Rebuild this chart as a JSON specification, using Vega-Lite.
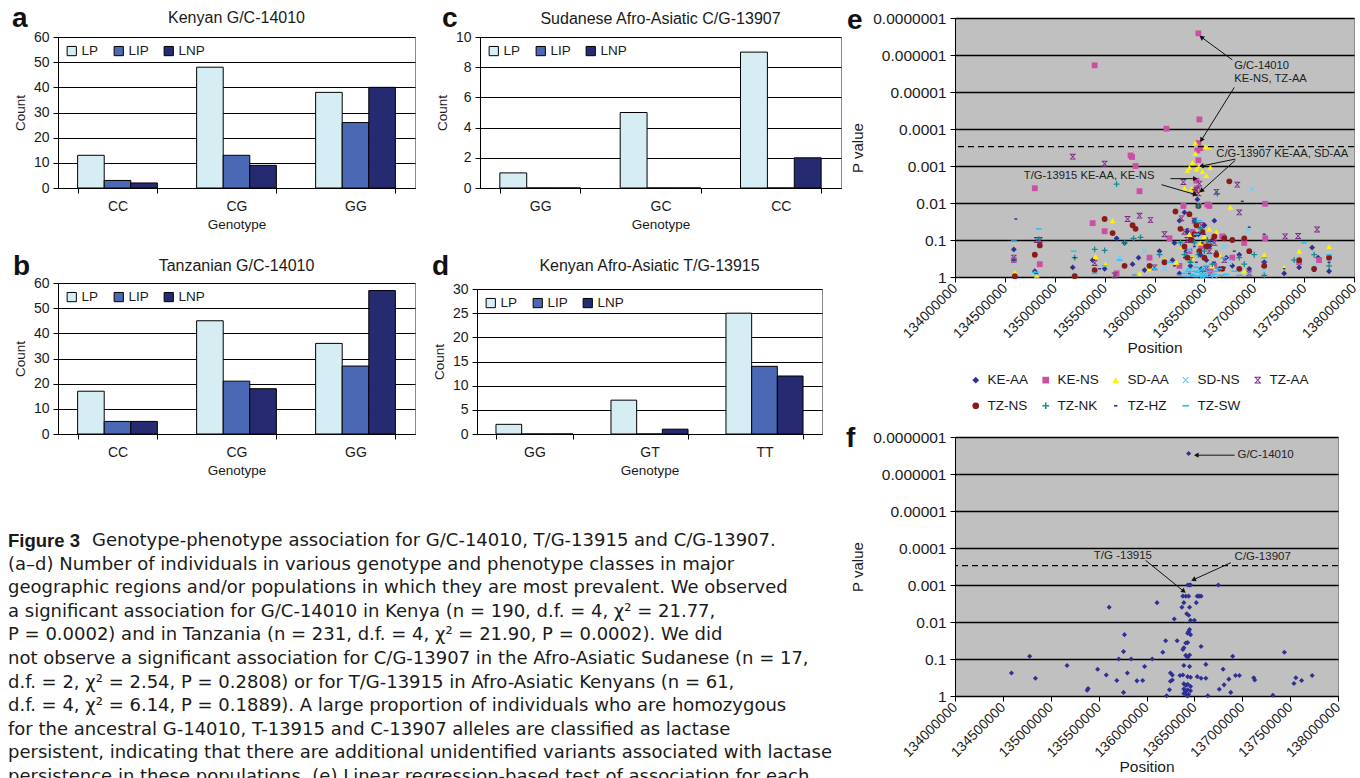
{
  "$schema": "https://vega.github.io/schema/vega-lite/v6.json",
  "background": "white",
  "padding": {"left": 8, "top": 4, "right": 0, "bottom": 0},
  "config": {
    "font": "Liberation Sans",
    "view": {"stroke": "#8a8a8a", "strokeWidth": 1},
    "axis": {"domainColor": "black", "tickColor": "black", "gridColor": "black", "labelColor": "#1a1a1a", "titleColor": "#1a1a1a", "titleFontWeight": "normal", "labelFont": "Liberation Sans", "titleFont": "Liberation Sans", "tickSize": 5, "labelFontSize": 14, "titleFontSize": 13.5},
    "title": {"fontWeight": "normal", "fontSize": 16, "color": "#1a1a1a", "baseline": "alphabetic", "font": "Liberation Sans"},
    "legend": {"labelFont": "Liberation Sans", "labelColor": "#1a1a1a"}
  },
  "datasets": {
    "bars": [
      {"panel": "a", "genotype": "CC", "phenotype": "LP", "count": 13},
      {"panel": "a", "genotype": "CC", "phenotype": "LIP", "count": 3},
      {"panel": "a", "genotype": "CC", "phenotype": "LNP", "count": 2},
      {"panel": "a", "genotype": "CG", "phenotype": "LP", "count": 48},
      {"panel": "a", "genotype": "CG", "phenotype": "LIP", "count": 13},
      {"panel": "a", "genotype": "CG", "phenotype": "LNP", "count": 9},
      {"panel": "a", "genotype": "GG", "phenotype": "LP", "count": 38},
      {"panel": "a", "genotype": "GG", "phenotype": "LIP", "count": 26},
      {"panel": "a", "genotype": "GG", "phenotype": "LNP", "count": 40},
      {"panel": "b", "genotype": "CC", "phenotype": "LP", "count": 17},
      {"panel": "b", "genotype": "CC", "phenotype": "LIP", "count": 5},
      {"panel": "b", "genotype": "CC", "phenotype": "LNP", "count": 5},
      {"panel": "b", "genotype": "CG", "phenotype": "LP", "count": 45},
      {"panel": "b", "genotype": "CG", "phenotype": "LIP", "count": 21},
      {"panel": "b", "genotype": "CG", "phenotype": "LNP", "count": 18},
      {"panel": "b", "genotype": "GG", "phenotype": "LP", "count": 36},
      {"panel": "b", "genotype": "GG", "phenotype": "LIP", "count": 27},
      {"panel": "b", "genotype": "GG", "phenotype": "LNP", "count": 57},
      {"panel": "c", "genotype": "GG", "phenotype": "LP", "count": 1},
      {"panel": "c", "genotype": "GG", "phenotype": "LIP", "count": 0},
      {"panel": "c", "genotype": "GG", "phenotype": "LNP", "count": 0},
      {"panel": "c", "genotype": "GC", "phenotype": "LP", "count": 5},
      {"panel": "c", "genotype": "GC", "phenotype": "LIP", "count": 0},
      {"panel": "c", "genotype": "GC", "phenotype": "LNP", "count": 0},
      {"panel": "c", "genotype": "CC", "phenotype": "LP", "count": 9},
      {"panel": "c", "genotype": "CC", "phenotype": "LIP", "count": 0},
      {"panel": "c", "genotype": "CC", "phenotype": "LNP", "count": 2},
      {"panel": "d", "genotype": "GG", "phenotype": "LP", "count": 2},
      {"panel": "d", "genotype": "GG", "phenotype": "LIP", "count": 0},
      {"panel": "d", "genotype": "GG", "phenotype": "LNP", "count": 0},
      {"panel": "d", "genotype": "GT", "phenotype": "LP", "count": 7},
      {"panel": "d", "genotype": "GT", "phenotype": "LIP", "count": 0},
      {"panel": "d", "genotype": "GT", "phenotype": "LNP", "count": 1},
      {"panel": "d", "genotype": "TT", "phenotype": "LP", "count": 25},
      {"panel": "d", "genotype": "TT", "phenotype": "LIP", "count": 14},
      {"panel": "d", "genotype": "TT", "phenotype": "LNP", "count": 12}
    ],
    "scatter": [
      {"pop": "KE-AA", "pos": 134590000, "p": 0.18}, {"pop": "KE-AA", "pos": 134800000, "p": 0.7}, {"pop": "KE-AA", "pos": 135180000, "p": 0.55}, {"pop": "KE-AA", "pos": 135380000, "p": 0.35}, {"pop": "KE-AA", "pos": 135500000, "p": 0.6}, {"pop": "KE-AA", "pos": 135620000, "p": 0.09}, {"pop": "KE-AA", "pos": 135700000, "p": 0.12}, {"pop": "KE-AA", "pos": 135780000, "p": 0.45}, {"pop": "KE-AA", "pos": 135840000, "p": 0.3}, {"pop": "KE-AA", "pos": 135900000, "p": 0.65}, {"pop": "KE-AA", "pos": 136050000, "p": 0.2}, {"pop": "KE-AA", "pos": 136180000, "p": 0.35}, {"pop": "KE-AA", "pos": 136250000, "p": 0.03}, {"pop": "KE-AA", "pos": 136300000, "p": 0.018}, {"pop": "KE-AA", "pos": 136330000, "p": 0.06}, {"pop": "KE-AA", "pos": 136380000, "p": 0.1}, {"pop": "KE-AA", "pos": 136410000, "p": 0.0045}, {"pop": "KE-AA", "pos": 136430000, "p": 0.008}, {"pop": "KE-AA", "pos": 136460000, "p": 0.25}, {"pop": "KE-AA", "pos": 136500000, "p": 0.04}, {"pop": "KE-AA", "pos": 136550000, "p": 0.15}, {"pop": "KE-AA", "pos": 136600000, "p": 0.03}, {"pop": "KE-AA", "pos": 136700000, "p": 0.08}, {"pop": "KE-AA", "pos": 136780000, "p": 0.5}, {"pop": "KE-AA", "pos": 136850000, "p": 0.25}, {"pop": "KE-AA", "pos": 136950000, "p": 0.6}, {"pop": "KE-AA", "pos": 137100000, "p": 0.4}, {"pop": "KE-AA", "pos": 137300000, "p": 0.8}, {"pop": "KE-AA", "pos": 137450000, "p": 0.55}, {"pop": "KE-AA", "pos": 137580000, "p": 0.16}, {"pop": "KE-AA", "pos": 137640000, "p": 0.3}, {"pop": "KE-AA", "pos": 137750000, "p": 0.7},
      {"pop": "KE-AA", "pos": 136320000, "p": 0.2}, {"pop": "KE-AA", "pos": 136360000, "p": 0.5}, {"pop": "KE-AA", "pos": 136400000, "p": 0.03}, {"pop": "KE-AA", "pos": 136440000, "p": 0.07}, {"pop": "KE-AA", "pos": 136470000, "p": 0.6}, {"pop": "KE-AA", "pos": 136520000, "p": 0.35}, {"pop": "KE-AA", "pos": 136580000, "p": 0.1}, {"pop": "KE-AA", "pos": 136650000, "p": 0.6}, {"pop": "KE-AA", "pos": 136720000, "p": 0.3}, {"pop": "KE-AA", "pos": 136250000, "p": 0.8}, {"pop": "KE-AA", "pos": 136200000, "p": 0.12},
      {"pop": "KE-NS", "pos": 136440000, "p": 2.6e-7}, {"pop": "KE-NS", "pos": 135400000, "p": 1.9e-6}, {"pop": "KE-NS", "pos": 136450000, "p": 5.5e-5}, {"pop": "KE-NS", "pos": 136120000, "p": 9.8e-5}, {"pop": "KE-NS", "pos": 135760000, "p": 0.00052}, {"pop": "KE-NS", "pos": 135775000, "p": 0.00057}, {"pop": "KE-NS", "pos": 135810000, "p": 0.001}, {"pop": "KE-NS", "pos": 134800000, "p": 0.004}, {"pop": "KE-NS", "pos": 135850000, "p": 0.0048}, {"pop": "KE-NS", "pos": 136440000, "p": 0.00024}, {"pop": "KE-NS", "pos": 136460000, "p": 0.00033}, {"pop": "KE-NS", "pos": 136430000, "p": 0.00038}, {"pop": "KE-NS", "pos": 136440000, "p": 0.0007}, {"pop": "KE-NS", "pos": 136420000, "p": 0.0025}, {"pop": "KE-NS", "pos": 136430000, "p": 0.004}, {"pop": "KE-NS", "pos": 137110000, "p": 0.0105}, {"pop": "KE-NS", "pos": 136550000, "p": 0.012}, {"pop": "KE-NS", "pos": 136530000, "p": 0.011}, {"pop": "KE-NS", "pos": 136290000, "p": 0.012}, {"pop": "KE-NS", "pos": 135380000, "p": 0.035}, {"pop": "KE-NS", "pos": 135500000, "p": 0.058}, {"pop": "KE-NS", "pos": 137110000, "p": 0.09}, {"pop": "KE-NS", "pos": 134590000, "p": 0.35}, {"pop": "KE-NS", "pos": 134850000, "p": 0.45}, {"pop": "KE-NS", "pos": 135620000, "p": 0.8}, {"pop": "KE-NS", "pos": 135950000, "p": 0.3}, {"pop": "KE-NS", "pos": 136150000, "p": 0.09}, {"pop": "KE-NS", "pos": 136350000, "p": 0.2}, {"pop": "KE-NS", "pos": 136600000, "p": 0.5}, {"pop": "KE-NS", "pos": 136780000, "p": 0.3}, {"pop": "KE-NS", "pos": 136900000, "p": 0.12}, {"pop": "KE-NS", "pos": 137450000, "p": 0.4}, {"pop": "KE-NS", "pos": 137650000, "p": 0.35},
      {"pop": "KE-NS", "pos": 136380000, "p": 0.06}, {"pop": "KE-NS", "pos": 136470000, "p": 0.15}, {"pop": "KE-NS", "pos": 136560000, "p": 0.7}, {"pop": "KE-NS", "pos": 136250000, "p": 0.5}, {"pop": "KE-NS", "pos": 136680000, "p": 0.08},
      {"pop": "SD-AA", "pos": 136410000, "p": 0.00024}, {"pop": "SD-AA", "pos": 136510000, "p": 0.0003}, {"pop": "SD-AA", "pos": 136540000, "p": 0.0003}, {"pop": "SD-AA", "pos": 136410000, "p": 0.00045}, {"pop": "SD-AA", "pos": 136380000, "p": 0.0008}, {"pop": "SD-AA", "pos": 136350000, "p": 0.0011}, {"pop": "SD-AA", "pos": 136420000, "p": 0.0012}, {"pop": "SD-AA", "pos": 136450000, "p": 0.001}, {"pop": "SD-AA", "pos": 136480000, "p": 0.0014}, {"pop": "SD-AA", "pos": 136520000, "p": 0.0018}, {"pop": "SD-AA", "pos": 136560000, "p": 0.0011}, {"pop": "SD-AA", "pos": 136330000, "p": 0.0013}, {"pop": "SD-AA", "pos": 136300000, "p": 0.004}, {"pop": "SD-AA", "pos": 136370000, "p": 0.0042}, {"pop": "SD-AA", "pos": 136410000, "p": 0.005}, {"pop": "SD-AA", "pos": 136440000, "p": 0.0048}, {"pop": "SD-AA", "pos": 136760000, "p": 0.013}, {"pop": "SD-AA", "pos": 135580000, "p": 0.03}, {"pop": "SD-AA", "pos": 136550000, "p": 0.05}, {"pop": "SD-AA", "pos": 135410000, "p": 0.28}, {"pop": "SD-AA", "pos": 135510000, "p": 0.45}, {"pop": "SD-AA", "pos": 137750000, "p": 0.15}, {"pop": "SD-AA", "pos": 135950000, "p": 0.6}, {"pop": "SD-AA", "pos": 136100000, "p": 0.35}, {"pop": "SD-AA", "pos": 136220000, "p": 0.4}, {"pop": "SD-AA", "pos": 136350000, "p": 0.07}, {"pop": "SD-AA", "pos": 136500000, "p": 0.08}, {"pop": "SD-AA", "pos": 136650000, "p": 0.25}, {"pop": "SD-AA", "pos": 136900000, "p": 0.7}, {"pop": "SD-AA", "pos": 137100000, "p": 0.25}, {"pop": "SD-AA", "pos": 137300000, "p": 0.55}, {"pop": "SD-AA", "pos": 137450000, "p": 0.2}, {"pop": "SD-AA", "pos": 134600000, "p": 0.75}, {"pop": "SD-AA", "pos": 134820000, "p": 0.9}, {"pop": "SD-AA", "pos": 135850000, "p": 0.8},
      {"pop": "SD-AA", "pos": 136380000, "p": 0.3}, {"pop": "SD-AA", "pos": 136460000, "p": 0.12}, {"pop": "SD-AA", "pos": 136580000, "p": 0.5}, {"pop": "SD-AA", "pos": 136280000, "p": 0.15}, {"pop": "SD-AA", "pos": 136620000, "p": 0.06},
      {"pop": "SD-NS", "pos": 136980000, "p": 0.0042}, {"pop": "SD-NS", "pos": 136940000, "p": 0.055}, {"pop": "SD-NS", "pos": 136450000, "p": 0.011}, {"pop": "SD-NS", "pos": 136350000, "p": 0.18}, {"pop": "SD-NS", "pos": 136500000, "p": 0.5}, {"pop": "SD-NS", "pos": 135650000, "p": 0.3}, {"pop": "SD-NS", "pos": 135900000, "p": 0.2}, {"pop": "SD-NS", "pos": 136100000, "p": 0.6}, {"pop": "SD-NS", "pos": 136750000, "p": 0.4}, {"pop": "SD-NS", "pos": 134820000, "p": 0.8}, {"pop": "SD-NS", "pos": 135200000, "p": 0.9}, {"pop": "SD-NS", "pos": 137100000, "p": 0.7}, {"pop": "SD-NS", "pos": 137600000, "p": 0.5}, {"pop": "SD-NS", "pos": 136400000, "p": 0.08}, {"pop": "SD-NS", "pos": 136600000, "p": 0.9},
      {"pop": "SD-NS", "pos": 136420000, "p": 0.5}, {"pop": "SD-NS", "pos": 136550000, "p": 0.25}, {"pop": "SD-NS", "pos": 136300000, "p": 0.7}, {"pop": "SD-NS", "pos": 136700000, "p": 0.15}, {"pop": "SD-NS", "pos": 136480000, "p": 0.95},
      {"pop": "TZ-AA", "pos": 135180000, "p": 0.00056}, {"pop": "TZ-AA", "pos": 135500000, "p": 0.00087}, {"pop": "TZ-AA", "pos": 136290000, "p": 0.0027}, {"pop": "TZ-AA", "pos": 136830000, "p": 0.0032}, {"pop": "TZ-AA", "pos": 136620000, "p": 0.005}, {"pop": "TZ-AA", "pos": 136850000, "p": 0.018}, {"pop": "TZ-AA", "pos": 135730000, "p": 0.027}, {"pop": "TZ-AA", "pos": 135850000, "p": 0.022}, {"pop": "TZ-AA", "pos": 135960000, "p": 0.029}, {"pop": "TZ-AA", "pos": 137310000, "p": 0.08}, {"pop": "TZ-AA", "pos": 137440000, "p": 0.078}, {"pop": "TZ-AA", "pos": 137630000, "p": 0.052}, {"pop": "TZ-AA", "pos": 134590000, "p": 0.3}, {"pop": "TZ-AA", "pos": 134850000, "p": 0.1}, {"pop": "TZ-AA", "pos": 134820000, "p": 0.1}, {"pop": "TZ-AA", "pos": 136270000, "p": 0.026}, {"pop": "TZ-AA", "pos": 136400000, "p": 0.005}, {"pop": "TZ-AA", "pos": 136420000, "p": 0.0045}, {"pop": "TZ-AA", "pos": 136440000, "p": 0.0055}, {"pop": "TZ-AA", "pos": 136450000, "p": 0.003}, {"pop": "TZ-AA", "pos": 136300000, "p": 0.06}, {"pop": "TZ-AA", "pos": 136400000, "p": 0.03}, {"pop": "TZ-AA", "pos": 136100000, "p": 0.07}, {"pop": "TZ-AA", "pos": 135400000, "p": 0.42}, {"pop": "TZ-AA", "pos": 135600000, "p": 0.9}, {"pop": "TZ-AA", "pos": 136000000, "p": 0.55}, {"pop": "TZ-AA", "pos": 136550000, "p": 0.2}, {"pop": "TZ-AA", "pos": 136700000, "p": 0.35}, {"pop": "TZ-AA", "pos": 136950000, "p": 0.8}, {"pop": "TZ-AA", "pos": 137100000, "p": 0.45},
      {"pop": "TZ-AA", "pos": 136330000, "p": 0.1}, {"pop": "TZ-AA", "pos": 136470000, "p": 0.04}, {"pop": "TZ-AA", "pos": 136520000, "p": 0.6}, {"pop": "TZ-AA", "pos": 136360000, "p": 0.35}, {"pop": "TZ-AA", "pos": 136600000, "p": 0.12},
      {"pop": "TZ-NS", "pos": 136750000, "p": 0.0026}, {"pop": "TZ-NS", "pos": 135500000, "p": 0.027}, {"pop": "TZ-NS", "pos": 135780000, "p": 0.04}, {"pop": "TZ-NS", "pos": 135810000, "p": 0.05}, {"pop": "TZ-NS", "pos": 135580000, "p": 0.065}, {"pop": "TZ-NS", "pos": 136210000, "p": 0.017}, {"pop": "TZ-NS", "pos": 136440000, "p": 0.012}, {"pop": "TZ-NS", "pos": 134850000, "p": 0.14}, {"pop": "TZ-NS", "pos": 134800000, "p": 0.25}, {"pop": "TZ-NS", "pos": 134600000, "p": 0.95}, {"pop": "TZ-NS", "pos": 136900000, "p": 0.09}, {"pop": "TZ-NS", "pos": 136950000, "p": 0.2}, {"pop": "TZ-NS", "pos": 136600000, "p": 0.08}, {"pop": "TZ-NS", "pos": 136550000, "p": 0.12}, {"pop": "TZ-NS", "pos": 136500000, "p": 0.3}, {"pop": "TZ-NS", "pos": 136350000, "p": 0.02}, {"pop": "TZ-NS", "pos": 136300000, "p": 0.15}, {"pop": "TZ-NS", "pos": 136100000, "p": 0.4}, {"pop": "TZ-NS", "pos": 135950000, "p": 0.5}, {"pop": "TZ-NS", "pos": 135400000, "p": 0.65}, {"pop": "TZ-NS", "pos": 137100000, "p": 0.5}, {"pop": "TZ-NS", "pos": 137450000, "p": 0.35}, {"pop": "TZ-NS", "pos": 137600000, "p": 0.6}, {"pop": "TZ-NS", "pos": 137750000, "p": 0.3}, {"pop": "TZ-NS", "pos": 136700000, "p": 0.09}, {"pop": "TZ-NS", "pos": 136420000, "p": 0.04}, {"pop": "TZ-NS", "pos": 136400000, "p": 0.07}, {"pop": "TZ-NS", "pos": 135700000, "p": 0.5}, {"pop": "TZ-NS", "pos": 135200000, "p": 0.95},
      {"pop": "TZ-NS", "pos": 136260000, "p": 0.05}, {"pop": "TZ-NS", "pos": 136330000, "p": 0.3}, {"pop": "TZ-NS", "pos": 136370000, "p": 0.1}, {"pop": "TZ-NS", "pos": 136450000, "p": 0.2}, {"pop": "TZ-NS", "pos": 136480000, "p": 0.06}, {"pop": "TZ-NS", "pos": 136520000, "p": 0.15}, {"pop": "TZ-NS", "pos": 136620000, "p": 0.25}, {"pop": "TZ-NS", "pos": 136680000, "p": 0.6}, {"pop": "TZ-NS", "pos": 136780000, "p": 0.1}, {"pop": "TZ-NS", "pos": 136850000, "p": 0.6},
      {"pop": "TZ-NK", "pos": 135620000, "p": 0.0031}, {"pop": "TZ-NK", "pos": 136630000, "p": 0.0056}, {"pop": "TZ-NK", "pos": 136440000, "p": 0.012}, {"pop": "TZ-NK", "pos": 134840000, "p": 0.095}, {"pop": "TZ-NK", "pos": 135790000, "p": 0.09}, {"pop": "TZ-NK", "pos": 135860000, "p": 0.085}, {"pop": "TZ-NK", "pos": 135500000, "p": 0.19}, {"pop": "TZ-NK", "pos": 136260000, "p": 0.12}, {"pop": "TZ-NK", "pos": 134590000, "p": 0.35}, {"pop": "TZ-NK", "pos": 136420000, "p": 0.03}, {"pop": "TZ-NK", "pos": 136460000, "p": 0.05}, {"pop": "TZ-NK", "pos": 136500000, "p": 0.2}, {"pop": "TZ-NK", "pos": 136850000, "p": 0.3}, {"pop": "TZ-NK", "pos": 137000000, "p": 0.25}, {"pop": "TZ-NK", "pos": 137600000, "p": 0.25}, {"pop": "TZ-NK", "pos": 137750000, "p": 0.5}, {"pop": "TZ-NK", "pos": 135200000, "p": 0.3}, {"pop": "TZ-NK", "pos": 135700000, "p": 0.12}, {"pop": "TZ-NK", "pos": 136050000, "p": 0.25}, {"pop": "TZ-NK", "pos": 136900000, "p": 0.45}, {"pop": "TZ-NK", "pos": 137100000, "p": 0.9}, {"pop": "TZ-NK", "pos": 137400000, "p": 0.35}, {"pop": "TZ-NK", "pos": 135400000, "p": 0.18},
      {"pop": "TZ-NK", "pos": 136360000, "p": 0.4}, {"pop": "TZ-NK", "pos": 136400000, "p": 0.12}, {"pop": "TZ-NK", "pos": 136440000, "p": 0.25}, {"pop": "TZ-NK", "pos": 136480000, "p": 0.7}, {"pop": "TZ-NK", "pos": 136530000, "p": 0.1}, {"pop": "TZ-NK", "pos": 136580000, "p": 0.45}, {"pop": "TZ-NK", "pos": 136300000, "p": 0.25},
      {"pop": "TZ-HZ", "pos": 134610000, "p": 0.027}, {"pop": "TZ-HZ", "pos": 136880000, "p": 0.009}, {"pop": "TZ-HZ", "pos": 136950000, "p": 0.045}, {"pop": "TZ-HZ", "pos": 134590000, "p": 0.35}, {"pop": "TZ-HZ", "pos": 134820000, "p": 0.8}, {"pop": "TZ-HZ", "pos": 135200000, "p": 0.3}, {"pop": "TZ-HZ", "pos": 135450000, "p": 0.6}, {"pop": "TZ-HZ", "pos": 135800000, "p": 0.9}, {"pop": "TZ-HZ", "pos": 136200000, "p": 0.5}, {"pop": "TZ-HZ", "pos": 136400000, "p": 0.15}, {"pop": "TZ-HZ", "pos": 136450000, "p": 0.25}, {"pop": "TZ-HZ", "pos": 136500000, "p": 0.07}, {"pop": "TZ-HZ", "pos": 136600000, "p": 0.4}, {"pop": "TZ-HZ", "pos": 136700000, "p": 0.55}, {"pop": "TZ-HZ", "pos": 136800000, "p": 0.2}, {"pop": "TZ-HZ", "pos": 137100000, "p": 0.07}, {"pop": "TZ-HZ", "pos": 137300000, "p": 0.6}, {"pop": "TZ-HZ", "pos": 137600000, "p": 0.7}, {"pop": "TZ-HZ", "pos": 137750000, "p": 0.4}, {"pop": "TZ-HZ", "pos": 136330000, "p": 0.05},
      {"pop": "TZ-HZ", "pos": 136350000, "p": 0.8}, {"pop": "TZ-HZ", "pos": 136420000, "p": 0.4}, {"pop": "TZ-HZ", "pos": 136480000, "p": 0.12}, {"pop": "TZ-HZ", "pos": 136550000, "p": 0.9}, {"pop": "TZ-HZ", "pos": 136620000, "p": 0.2}, {"pop": "TZ-HZ", "pos": 136300000, "p": 0.3},
      {"pop": "TZ-SW", "pos": 134590000, "p": 0.1}, {"pop": "TZ-SW", "pos": 134840000, "p": 0.05}, {"pop": "TZ-SW", "pos": 135190000, "p": 0.2}, {"pop": "TZ-SW", "pos": 135400000, "p": 0.8}, {"pop": "TZ-SW", "pos": 134800000, "p": 0.75}, {"pop": "TZ-SW", "pos": 135500000, "p": 0.5}, {"pop": "TZ-SW", "pos": 135650000, "p": 0.35}, {"pop": "TZ-SW", "pos": 135800000, "p": 0.9}, {"pop": "TZ-SW", "pos": 136000000, "p": 0.6}, {"pop": "TZ-SW", "pos": 136150000, "p": 0.4}, {"pop": "TZ-SW", "pos": 136300000, "p": 0.8}, {"pop": "TZ-SW", "pos": 136350000, "p": 0.6}, {"pop": "TZ-SW", "pos": 136380000, "p": 0.9}, {"pop": "TZ-SW", "pos": 136400000, "p": 0.7}, {"pop": "TZ-SW", "pos": 136420000, "p": 0.55}, {"pop": "TZ-SW", "pos": 136440000, "p": 0.95}, {"pop": "TZ-SW", "pos": 136460000, "p": 0.65}, {"pop": "TZ-SW", "pos": 136480000, "p": 0.8}, {"pop": "TZ-SW", "pos": 136500000, "p": 0.9}, {"pop": "TZ-SW", "pos": 136520000, "p": 0.5}, {"pop": "TZ-SW", "pos": 136550000, "p": 0.7}, {"pop": "TZ-SW", "pos": 136600000, "p": 0.85}, {"pop": "TZ-SW", "pos": 136650000, "p": 0.6}, {"pop": "TZ-SW", "pos": 136700000, "p": 0.3}, {"pop": "TZ-SW", "pos": 136800000, "p": 0.7}, {"pop": "TZ-SW", "pos": 136950000, "p": 0.8}, {"pop": "TZ-SW", "pos": 137100000, "p": 0.3}, {"pop": "TZ-SW", "pos": 137500000, "p": 0.12}, {"pop": "TZ-SW", "pos": 137750000, "p": 0.25}, {"pop": "TZ-SW", "pos": 136450000, "p": 0.03}, {"pop": "TZ-SW", "pos": 136420000, "p": 0.07}, {"pop": "TZ-SW", "pos": 136560000, "p": 0.12},
      {"pop": "TZ-SW", "pos": 136320000, "p": 0.95}, {"pop": "TZ-SW", "pos": 136340000, "p": 0.7}, {"pop": "TZ-SW", "pos": 136370000, "p": 0.85}, {"pop": "TZ-SW", "pos": 136410000, "p": 0.98}, {"pop": "TZ-SW", "pos": 136430000, "p": 0.75}, {"pop": "TZ-SW", "pos": 136470000, "p": 0.9}, {"pop": "TZ-SW", "pos": 136490000, "p": 0.6}, {"pop": "TZ-SW", "pos": 136510000, "p": 0.98}, {"pop": "TZ-SW", "pos": 136530000, "p": 0.8}, {"pop": "TZ-SW", "pos": 136570000, "p": 0.95}, {"pop": "TZ-SW", "pos": 136620000, "p": 0.7}, {"pop": "TZ-SW", "pos": 136670000, "p": 0.9}, {"pop": "TZ-SW", "pos": 136720000, "p": 0.85}, {"pop": "TZ-SW", "pos": 136250000, "p": 0.9}, {"pop": "TZ-SW", "pos": 136850000, "p": 0.9}
    ],
    "fpts": [
      {"pos": 136440000, "p": 2.8e-7}, {"pos": 136750000, "p": 0.001}, {"pos": 136430000, "p": 0.001}, {"pos": 136450000, "p": 0.001}, {"pos": 136460000, "p": 0.001},
      {"pos": 136380000, "p": 0.002}, {"pos": 136410000, "p": 0.002}, {"pos": 136440000, "p": 0.002}, {"pos": 136530000, "p": 0.002}, {"pos": 136550000, "p": 0.002}, {"pos": 136570000, "p": 0.002},
      {"pos": 136110000, "p": 0.003}, {"pos": 136390000, "p": 0.003}, {"pos": 136520000, "p": 0.003}, {"pos": 135610000, "p": 0.004}, {"pos": 136370000, "p": 0.004}, {"pos": 136450000, "p": 0.004},
      {"pos": 136420000, "p": 0.006}, {"pos": 136440000, "p": 0.0066}, {"pos": 136460000, "p": 0.009}, {"pos": 136500000, "p": 0.009}, {"pos": 136290000, "p": 0.0083},
      {"pos": 136450000, "p": 0.016}, {"pos": 136440000, "p": 0.018}, {"pos": 136430000, "p": 0.02}, {"pos": 136460000, "p": 0.022}, {"pos": 135770000, "p": 0.022},
      {"pos": 136200000, "p": 0.032}, {"pos": 136320000, "p": 0.032}, {"pos": 136410000, "p": 0.037}, {"pos": 136430000, "p": 0.036}, {"pos": 136390000, "p": 0.05}, {"pos": 136380000, "p": 0.055},
      {"pos": 136570000, "p": 0.046}, {"pos": 135760000, "p": 0.063}, {"pos": 136170000, "p": 0.066}, {"pos": 136410000, "p": 0.08}, {"pos": 136430000, "p": 0.09}, {"pos": 136450000, "p": 0.078},
      {"pos": 134780000, "p": 0.084}, {"pos": 136900000, "p": 0.084}, {"pos": 137440000, "p": 0.066}, {"pos": 135710000, "p": 0.1}, {"pos": 135840000, "p": 0.1}, {"pos": 136060000, "p": 0.1},
      {"pos": 136390000, "p": 0.15}, {"pos": 136450000, "p": 0.16}, {"pos": 135980000, "p": 0.16}, {"pos": 135170000, "p": 0.15}, {"pos": 136620000, "p": 0.14}, {"pos": 135490000, "p": 0.19}, {"pos": 136800000, "p": 0.19},
      {"pos": 134590000, "p": 0.24}, {"pos": 135800000, "p": 0.24}, {"pos": 135580000, "p": 0.27}, {"pos": 136250000, "p": 0.24}, {"pos": 136270000, "p": 0.27},
      {"pos": 136380000, "p": 0.27}, {"pos": 136430000, "p": 0.3}, {"pos": 136460000, "p": 0.31}, {"pos": 136530000, "p": 0.3}, {"pos": 136570000, "p": 0.33}, {"pos": 136620000, "p": 0.33},
      {"pos": 137730000, "p": 0.28}, {"pos": 137560000, "p": 0.32}, {"pos": 134840000, "p": 0.33}, {"pos": 136350000, "p": 0.28}, {"pos": 136930000, "p": 0.28}, {"pos": 136970000, "p": 0.28},
      {"pos": 137120000, "p": 0.32}, {"pos": 137130000, "p": 0.37}, {"pos": 135690000, "p": 0.38}, {"pos": 135900000, "p": 0.39}, {"pos": 135960000, "p": 0.38}, {"pos": 136250000, "p": 0.4}, {"pos": 136270000, "p": 0.37},
      {"pos": 136860000, "p": 0.35}, {"pos": 137620000, "p": 0.38}, {"pos": 137540000, "p": 0.46},
      {"pos": 136390000, "p": 0.47}, {"pos": 136410000, "p": 0.52}, {"pos": 136430000, "p": 0.48}, {"pos": 136460000, "p": 0.55}, {"pos": 136810000, "p": 0.5},
      {"pos": 135380000, "p": 0.7}, {"pos": 135390000, "p": 0.63}, {"pos": 136240000, "p": 0.68}, {"pos": 136760000, "p": 0.66},
      {"pos": 136390000, "p": 0.65}, {"pos": 136410000, "p": 0.75}, {"pos": 136430000, "p": 0.68}, {"pos": 136460000, "p": 0.72},
      {"pos": 135760000, "p": 0.8}, {"pos": 136880000, "p": 0.8}, {"pos": 136210000, "p": 0.98},
      {"pos": 136390000, "p": 0.85}, {"pos": 136420000, "p": 0.95}, {"pos": 136440000, "p": 0.9}, {"pos": 136430000, "p": 1.0}, {"pos": 136640000, "p": 0.98}, {"pos": 137320000, "p": 0.95}
    ],
    "arrowsE": [
      {"x1": 136780000, "y1": 1.35e-6, "x2": 136470000, "y2": 3.3e-7},
      {"x1": 136800000, "y1": 7.5e-6, "x2": 136470000, "y2": 0.0002},
      {"x1": 136810000, "y1": 0.00065, "x2": 136470000, "y2": 0.001},
      {"x1": 136810000, "y1": 0.0007, "x2": 136470000, "y2": 0.0047},
      {"x1": 136160000, "y1": 0.0022, "x2": 136410000, "y2": 0.0022},
      {"x1": 136070000, "y1": 0.0032, "x2": 136410000, "y2": 0.0059}
    ],
    "labelsE": [
      {"x": 136800000, "y": 1.96e-6, "t": "G/C-14010"},
      {"x": 136800000, "y": 4.4e-6, "t": "KE-NS, TZ-AA"},
      {"x": 136620000, "y": 0.00046, "t": "C/G-13907  KE-AA, SD-AA"},
      {"x": 134690000, "y": 0.00186, "t": "T/G-13915 KE-AA, KE-NS"}
    ],
    "arrowsF": [
      {"x1": 136920000, "y1": 3.1e-7, "x2": 136520000, "y2": 3.1e-7},
      {"x1": 135990000, "y1": 0.000215, "x2": 136390000, "y2": 0.00148},
      {"x1": 136880000, "y1": 0.00025, "x2": 136490000, "y2": 0.00072}
    ],
    "labelsF": [
      {"x": 136950000, "y": 3.1e-7, "t": "G/C-14010"},
      {"x": 135450000, "y": 0.000165, "t": "T/G -13915"},
      {"x": 136920000, "y": 0.000178, "t": "C/G-13907"}
    ],
    "caption": [
      {"line": 1, "seg": 0, "text": "Figure 3"},
      {"line": 1, "seg": 1, "text": "Genotype-phenotype association for G/C-14010, T/G-13915 and C/G-13907."},
      {"line": 2, "seg": 1, "text": "(a–d) Number of individuals in various genotype and phenotype classes in major"},
      {"line": 3, "seg": 1, "text": "geographic regions and/or populations in which they are most prevalent. We observed"},
      {"line": 4, "seg": 1, "text": "a significant association for G/C-14010 in Kenya (n = 190, d.f. = 4, χ² = 21.77,"},
      {"line": 5, "seg": 1, "text": "P = 0.0002) and in Tanzania (n = 231, d.f. = 4, χ² = 21.90, P = 0.0002). We did"},
      {"line": 6, "seg": 1, "text": "not observe a significant association for C/G-13907 in the Afro-Asiatic Sudanese (n = 17,"},
      {"line": 7, "seg": 1, "text": "d.f. = 2, χ² = 2.54, P = 0.2808) or for T/G-13915 in Afro-Asiatic Kenyans (n = 61,"},
      {"line": 8, "seg": 1, "text": "d.f. = 4, χ² = 6.14, P = 0.1889). A large proportion of individuals who are homozygous"},
      {"line": 9, "seg": 1, "text": "for the ancestral G-14010, T-13915 and C-13907 alleles are classified as lactase"},
      {"line": 10, "seg": 1, "text": "persistent, indicating that there are additional unidentified variants associated with lactase"},
      {"line": 11, "seg": 1, "text": "persistence in these populations. (e) Linear regression-based test of association for each"}
    ]
  },
  "spacing": 3,
  "resolve": {"scale": {"color": "independent", "shape": "independent", "xOffset": "independent"}, "legend": {"color": "independent", "shape": "independent"}},
  "hconcat": [
    {
      "spacing": 55,
      "resolve": {"scale": {"color": "independent", "shape": "independent", "xOffset": "independent"}, "legend": {"color": "independent", "shape": "independent"}},
      "vconcat": [
        {
          "spacing": 18,
          "bounds": "flush",
          "resolve": {"scale": {"color": "independent", "shape": "independent", "xOffset": "independent"}, "legend": {"color": "independent", "shape": "independent"}},
          "vconcat": [
            {"width": 1, "height": 1, "view": {"stroke": null}, "data": {"values": [{"k": 0}]}, "mark": {"type": "point", "opacity": 0}},
            {
              "spacing": 21,
              "resolve": {"scale": {"color": "independent", "shape": "independent", "xOffset": "independent"}, "legend": {"color": "independent", "shape": "independent"}},
              "vconcat": [
                {
                  "spacing": 18,
                  "resolve": {"scale": {"color": "independent", "shape": "independent", "xOffset": "independent"}, "legend": {"color": "independent", "shape": "independent"}},
                  "hconcat": [
                    {
                      "width": 357, "height": 151,
                      "title": {"text": "Kenyan G/C-14010", "offset": -21},
                      "layer": [
                        {
                          "data": {"name": "bars"},
                          "transform": [{"filter": "datum.panel === 'a'"}],
                          "mark": {"type": "bar", "stroke": "black", "strokeWidth": 1},
                          "encoding": {
                            "x": {"field": "genotype", "type": "nominal", "sort": ["CC", "CG", "GG"], "scale": {"paddingInner": 0.33, "paddingOuter": 0.165}, "axis": {"title": "Genotype", "labelAngle": 0, "tickBand": "extent", "grid": false, "labelPadding": 6, "titlePadding": 4}},
                            "xOffset": {"field": "phenotype", "type": "nominal", "scale": {"domain": ["LP", "LIP", "LNP"], "paddingInner": 0, "paddingOuter": 0}},
                            "y": {"field": "count", "type": "quantitative", "scale": {"domain": [0, 60]}, "axis": {"values": [0, 10, 20, 30, 40, 50, 60], "title": "Count", "grid": true, "labelPadding": 4, "titlePadding": 6}},
                            "color": {"field": "phenotype", "type": "nominal", "scale": {"domain": ["LP", "LIP", "LNP"], "range": ["#d6eef3", "#4a68b3", "#262a70"]}, "legend": {"orient": "top-left", "direction": "horizontal", "title": null, "symbolType": "square", "symbolSize": 85, "symbolStrokeColor": "black", "symbolStrokeWidth": 1, "labelFontSize": 13.5, "labelOffset": 3, "columnPadding": 13, "offset": 5, "padding": 2}}
                          }
                        },
                        {
                          "data": {"values": [{"t": "a"}]},
                          "mark": {"type": "text", "fontWeight": "bold", "fontSize": 28, "align": "left", "baseline": "alphabetic", "color": "#111"},
                          "encoding": {"x": {"value": -46}, "y": {"value": -10}, "text": {"field": "t"}}
                        }
                      ]
                    },
                    {
                      "width": 361, "height": 151,
                      "title": {"text": "Sudanese Afro-Asiatic C/G-13907", "offset": -22},
                      "layer": [
                        {
                          "data": {"name": "bars"},
                          "transform": [{"filter": "datum.panel === 'c'"}],
                          "mark": {"type": "bar", "stroke": "black", "strokeWidth": 1},
                          "encoding": {
                            "x": {"field": "genotype", "type": "nominal", "sort": ["GG", "GC", "CC"], "scale": {"paddingInner": 0.33, "paddingOuter": 0.165}, "axis": {"title": "Genotype", "labelAngle": 0, "tickBand": "extent", "grid": false, "labelPadding": 6, "titlePadding": 4}},
                            "xOffset": {"field": "phenotype", "type": "nominal", "scale": {"domain": ["LP", "LIP", "LNP"], "paddingInner": 0, "paddingOuter": 0}},
                            "y": {"field": "count", "type": "quantitative", "scale": {"domain": [0, 10]}, "axis": {"values": [0, 2, 4, 6, 8, 10], "title": "Count", "grid": true, "labelPadding": 4, "titlePadding": 6}},
                            "color": {"field": "phenotype", "type": "nominal", "scale": {"domain": ["LP", "LIP", "LNP"], "range": ["#d6eef3", "#4a68b3", "#262a70"]}, "legend": {"orient": "top-left", "direction": "horizontal", "title": null, "symbolType": "square", "symbolSize": 85, "symbolStrokeColor": "black", "symbolStrokeWidth": 1, "labelFontSize": 13.5, "labelOffset": 3, "columnPadding": 13, "offset": 5, "padding": 2}}
                          }
                        },
                        {
                          "data": {"values": [{"t": "c"}]},
                          "mark": {"type": "text", "fontWeight": "bold", "fontSize": 28, "align": "left", "baseline": "alphabetic", "color": "#111"},
                          "encoding": {"x": {"value": -38}, "y": {"value": -10}, "text": {"field": "t"}}
                        }
                      ]
                    }
                  ]
                },
                {
                  "spacing": 15,
                  "resolve": {"scale": {"color": "independent", "shape": "independent", "xOffset": "independent"}, "legend": {"color": "independent", "shape": "independent"}},
                  "hconcat": [
                    {
                      "width": 357, "height": 151,
                      "title": {"text": "Tanzanian G/C-14010", "offset": -21},
                      "layer": [
                        {
                          "data": {"name": "bars"},
                          "transform": [{"filter": "datum.panel === 'b'"}],
                          "mark": {"type": "bar", "stroke": "black", "strokeWidth": 1},
                          "encoding": {
                            "x": {"field": "genotype", "type": "nominal", "sort": ["CC", "CG", "GG"], "scale": {"paddingInner": 0.33, "paddingOuter": 0.165}, "axis": {"title": "Genotype", "labelAngle": 0, "tickBand": "extent", "grid": false, "labelPadding": 6, "titlePadding": 4}},
                            "xOffset": {"field": "phenotype", "type": "nominal", "scale": {"domain": ["LP", "LIP", "LNP"], "paddingInner": 0, "paddingOuter": 0}},
                            "y": {"field": "count", "type": "quantitative", "scale": {"domain": [0, 60]}, "axis": {"values": [0, 10, 20, 30, 40, 50, 60], "title": "Count", "grid": true, "labelPadding": 4, "titlePadding": 6}},
                            "color": {"field": "phenotype", "type": "nominal", "scale": {"domain": ["LP", "LIP", "LNP"], "range": ["#d6eef3", "#4a68b3", "#262a70"]}, "legend": {"orient": "top-left", "direction": "horizontal", "title": null, "symbolType": "square", "symbolSize": 85, "symbolStrokeColor": "black", "symbolStrokeWidth": 1, "labelFontSize": 13.5, "labelOffset": 3, "columnPadding": 13, "offset": 5, "padding": 2}}
                          }
                        },
                        {
                          "data": {"values": [{"t": "b"}]},
                          "mark": {"type": "text", "fontWeight": "bold", "fontSize": 28, "align": "left", "baseline": "alphabetic", "color": "#111"},
                          "encoding": {"x": {"value": -45}, "y": {"value": -8}, "text": {"field": "t"}}
                        }
                      ]
                    },
                    {
                      "spacing": 5,
                      "bounds": "flush",
                      "resolve": {"scale": {"color": "independent", "shape": "independent", "xOffset": "independent"}, "legend": {"color": "independent", "shape": "independent"}},
                      "vconcat": [
                        {"width": 1, "height": 1, "view": {"stroke": null}, "data": {"values": [{"k": 0}]}, "mark": {"type": "point", "opacity": 0}},
                        {
                          "width": 345, "height": 145,
                          "title": {"text": "Kenyan Afro-Asiatic T/G-13915", "offset": -21},
                          "layer": [
                            {
                              "data": {"name": "bars"},
                              "transform": [{"filter": "datum.panel === 'd'"}],
                              "mark": {"type": "bar", "stroke": "black", "strokeWidth": 1},
                              "encoding": {
                                "x": {"field": "genotype", "type": "nominal", "sort": ["GG", "GT", "TT"], "scale": {"paddingInner": 0.33, "paddingOuter": 0.165}, "axis": {"title": "Genotype", "labelAngle": 0, "tickBand": "extent", "grid": false, "labelPadding": 6, "titlePadding": 4}},
                                "xOffset": {"field": "phenotype", "type": "nominal", "scale": {"domain": ["LP", "LIP", "LNP"], "paddingInner": 0, "paddingOuter": 0}},
                                "y": {"field": "count", "type": "quantitative", "scale": {"domain": [0, 30]}, "axis": {"values": [0, 5, 10, 15, 20, 25, 30], "title": "Count", "grid": true, "labelPadding": 4, "titlePadding": 6}},
                                "color": {"field": "phenotype", "type": "nominal", "scale": {"domain": ["LP", "LIP", "LNP"], "range": ["#d6eef3", "#4a68b3", "#262a70"]}, "legend": {"orient": "top-left", "direction": "horizontal", "title": null, "symbolType": "square", "symbolSize": 85, "symbolStrokeColor": "black", "symbolStrokeWidth": 1, "labelFontSize": 13.5, "labelOffset": 3, "columnPadding": 13, "offset": 5, "padding": 2}}
                              }
                            },
                            {
                              "data": {"values": [{"t": "d"}]},
                              "mark": {"type": "text", "fontWeight": "bold", "fontSize": 28, "align": "left", "baseline": "alphabetic", "color": "#111"},
                              "encoding": {"x": {"value": -45}, "y": {"value": -14}, "text": {"field": "t"}}
                            }
                          ]
                        }
                      ]
                    }
                  ]
                }
              ]
            }
          ]
        },
        {
          "width": 760, "height": 236,
          "view": {"stroke": null},
          "data": {"name": "caption"},
          "encoding": {
            "y": {"field": "line", "type": "ordinal", "axis": null, "scale": {"type": "point", "padding": 0, "domain": [1, 2, 3, 4, 5, 6, 7, 8, 9, 10, 11]}},
            "text": {"field": "text"}
          },
          "layer": [
            {
              "transform": [{"filter": "datum.seg === 0"}],
              "mark": {"type": "text", "align": "left", "baseline": "middle", "font": "Liberation Sans", "fontSize": 18.5, "fontWeight": "bold", "color": "#1a1a1a"},
              "encoding": {"x": {"value": -50}}
            },
            {
              "transform": [{"filter": "datum.seg === 1 && datum.line === 1"}],
              "mark": {"type": "text", "align": "left", "baseline": "middle", "dx": 84, "font": "DejaVu Sans", "fontSize": 18, "color": "#1a1a1a"},
              "encoding": {"x": {"value": -50}}
            },
            {
              "transform": [{"filter": "datum.line > 1"}],
              "mark": {"type": "text", "align": "left", "baseline": "middle", "font": "DejaVu Sans", "fontSize": 18, "color": "#1a1a1a"},
              "encoding": {"x": {"value": -50}}
            }
          ]
        }
      ]
    },
    {
      "spacing": 10,
      "resolve": {"scale": {"color": "independent", "shape": "independent", "xOffset": "independent"}, "legend": {"color": "independent", "shape": "independent"}},
      "vconcat": [
        {
          "width": 399, "height": 259,
          "view": {"fill": "#c0c0c0", "stroke": "#8a8a8a"},
          "layer": [
            {
              "data": {"name": "scatter"},
              "mark": {"type": "point", "filled": true, "size": 34, "opacity": 1},
              "encoding": {
                "x": {"field": "pos", "type": "quantitative", "scale": {"domain": [134000000, 138000000], "nice": false, "zero": false}, "axis": {"values": [134000000, 134500000, 135000000, 135500000, 136000000, 136500000, 137000000, 137500000, 138000000], "format": "d", "labelAngle": -45, "labelBaseline": "middle", "labelOverlap": false, "labelFlush": false, "grid": false, "title": "Position", "labelFontSize": 14, "titleFontSize": 15.5, "labelPadding": 4, "titlePadding": 0}},
                "y": {"field": "p", "type": "quantitative", "scale": {"type": "log", "domain": [1e-7, 1], "reverse": true, "nice": false}, "axis": {"values": [1e-7, 1e-6, 1e-5, 1e-4, 1e-3, 0.01, 0.1, 1], "format": ".7~f", "grid": true, "gridWidth": 1.3, "title": "P value", "labelFontSize": 15.5, "titleFontSize": 15, "labelPadding": 4, "titlePadding": 7}},
                "shape": {"field": "pop", "type": "nominal", "scale": {"domain": ["KE-AA", "KE-NS", "SD-AA", "SD-NS", "TZ-AA", "TZ-NS", "TZ-NK", "TZ-HZ", "TZ-SW"], "range": ["diamond", "square", "triangle-up", "M-1,-0.75L-0.75,-1L0,-0.25L0.75,-1L1,-0.75L0.25,0L1,0.75L0.75,1L0,0.25L-0.75,1L-1,0.75L-0.25,0Z", "M-1,-1H1V-0.7H-1Z M-1,0.7H1V1H-1Z M-0.8,-0.7L-0.45,-0.7L0,-0.2L0.45,-0.7L0.8,-0.7L0.2,0L0.8,0.7L0.45,0.7L0,0.2L-0.45,0.7L-0.8,0.7L-0.2,0Z", "circle", "M-1,-0.22H-0.22V-1H0.22V-0.22H1V0.22H0.22V1H-0.22V0.22H-1Z", "M-0.5,-0.25H0.5V0.25H-0.5Z", "M-1,-0.25H1V0.25H-1Z"]}, "legend": {"orient": "none", "legendX": 14, "legendY": 355, "direction": "horizontal", "columns": 5, "title": null, "labelFontSize": 13.5, "symbolSize": 45, "columnPadding": 10, "rowPadding": 11, "labelOffset": 5}},
                "color": {"field": "pop", "type": "nominal", "scale": {"domain": ["KE-AA", "KE-NS", "SD-AA", "SD-NS", "TZ-AA", "TZ-NS", "TZ-NK", "TZ-HZ", "TZ-SW"], "range": ["#2e3192", "#cc4fa6", "#fff200", "#6dcff6", "#7b2a83", "#8b1a1a", "#178b8b", "#2e3192", "#29c0f4"]}, "legend": {"orient": "none", "legendX": 14, "legendY": 355, "direction": "horizontal", "columns": 5, "title": null, "labelFontSize": 13.5, "symbolSize": 45, "columnPadding": 10, "rowPadding": 11, "labelOffset": 5}}
              }
            },
            {
              "data": {"values": [{"thr": 0.0003}]},
              "mark": {"type": "rule", "strokeDash": [6, 4], "color": "black", "strokeWidth": 1.2},
              "encoding": {"y": {"field": "thr", "type": "quantitative"}}
            },
            {
              "data": {"name": "arrowsE"},
              "mark": {"type": "rule", "color": "#111", "strokeWidth": 1},
              "encoding": {"x": {"field": "x1", "type": "quantitative"}, "y": {"field": "y1", "type": "quantitative"}, "x2": {"field": "x2"}, "y2": {"field": "y2"}}
            },
            {
              "data": {"name": "arrowsE"},
              "transform": [{"calculate": "atan2((datum.x2 - datum.x1) * 399 / 4000000, -(log(datum.y2) - log(datum.y1)) / LN10 * 37) * 180 / PI", "as": "ang"}],
              "mark": {"type": "point", "shape": "triangle-up", "filled": true, "color": "#111", "size": 28, "opacity": 1},
              "encoding": {"x": {"field": "x2", "type": "quantitative"}, "y": {"field": "y2", "type": "quantitative"}, "angle": {"field": "ang", "type": "quantitative", "scale": null}}
            },
            {
              "data": {"name": "labelsE"},
              "mark": {"type": "text", "align": "left", "baseline": "middle", "fontSize": 11.2, "color": "#222"},
              "encoding": {"x": {"field": "x", "type": "quantitative"}, "y": {"field": "y", "type": "quantitative"}, "text": {"field": "t"}}
            },
            {
              "data": {"values": [{"t": "e"}]},
              "mark": {"type": "text", "fontWeight": "bold", "fontSize": 28, "align": "left", "baseline": "alphabetic", "color": "#111"},
              "encoding": {"x": {"value": -108}, "y": {"value": 11}, "text": {"field": "t"}}
            }
          ]
        },
        {
          "width": 383, "height": 259,
          "view": {"fill": "#c0c0c0", "stroke": "#8a8a8a"},
          "layer": [
            {
              "data": {"name": "fpts"},
              "mark": {"type": "point", "filled": true, "shape": "diamond", "size": 26, "color": "#2e3192", "opacity": 1},
              "encoding": {
                "x": {"field": "pos", "type": "quantitative", "scale": {"domain": [134000000, 138000000], "nice": false, "zero": false}, "axis": {"values": [134000000, 134500000, 135000000, 135500000, 136000000, 136500000, 137000000, 137500000, 138000000], "format": "d", "labelAngle": -45, "labelBaseline": "middle", "labelOverlap": false, "labelFlush": false, "grid": false, "title": "Position", "labelFontSize": 14, "titleFontSize": 15.5, "labelPadding": 4, "titlePadding": 0}},
                "y": {"field": "p", "type": "quantitative", "scale": {"type": "log", "domain": [1e-7, 1], "reverse": true, "nice": false}, "axis": {"values": [1e-7, 1e-6, 1e-5, 1e-4, 1e-3, 0.01, 0.1, 1], "format": ".7~f", "grid": true, "gridWidth": 1.3, "title": "P value", "labelFontSize": 15.5, "titleFontSize": 15, "labelPadding": 4, "titlePadding": 7}}
              }
            },
            {
              "data": {"values": [{"thr": 0.0003}]},
              "mark": {"type": "rule", "strokeDash": [6, 4], "color": "black", "strokeWidth": 1.2},
              "encoding": {"y": {"field": "thr", "type": "quantitative"}}
            },
            {
              "data": {"name": "arrowsF"},
              "mark": {"type": "rule", "color": "#111", "strokeWidth": 1},
              "encoding": {"x": {"field": "x1", "type": "quantitative"}, "y": {"field": "y1", "type": "quantitative"}, "x2": {"field": "x2"}, "y2": {"field": "y2"}}
            },
            {
              "data": {"name": "arrowsF"},
              "transform": [{"calculate": "atan2((datum.x2 - datum.x1) * 383 / 4000000, -(log(datum.y2) - log(datum.y1)) / LN10 * 37) * 180 / PI", "as": "ang"}],
              "mark": {"type": "point", "shape": "triangle-up", "filled": true, "color": "#111", "size": 28, "opacity": 1},
              "encoding": {"x": {"field": "x2", "type": "quantitative"}, "y": {"field": "y2", "type": "quantitative"}, "angle": {"field": "ang", "type": "quantitative", "scale": null}}
            },
            {
              "data": {"name": "labelsF"},
              "mark": {"type": "text", "align": "left", "baseline": "middle", "fontSize": 11.5, "color": "#222"},
              "encoding": {"x": {"field": "x", "type": "quantitative"}, "y": {"field": "y", "type": "quantitative"}, "text": {"field": "t"}}
            },
            {
              "data": {"values": [{"t": "f"}]},
              "mark": {"type": "text", "fontWeight": "bold", "fontSize": 28, "align": "left", "baseline": "alphabetic", "color": "#111"},
              "encoding": {"x": {"value": -109}, "y": {"value": 10}, "text": {"field": "t"}}
            }
          ]
        }
      ]
    }
  ]
}
